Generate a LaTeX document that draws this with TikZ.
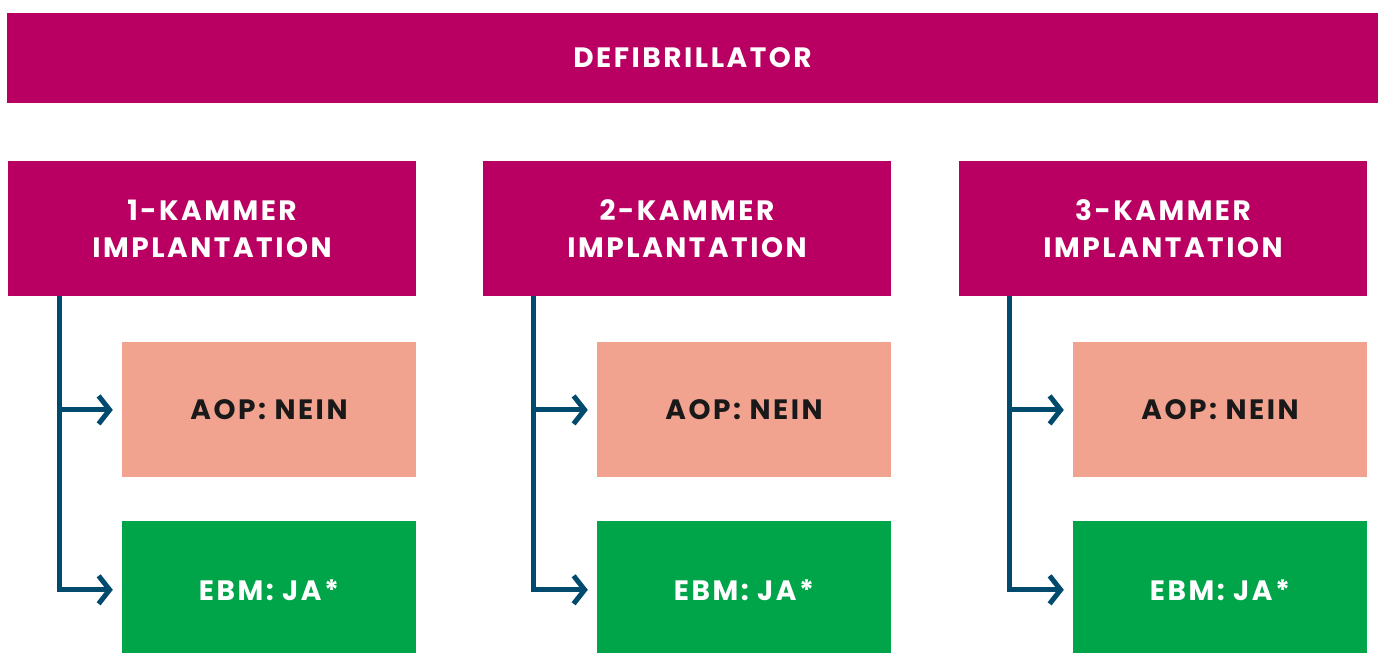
\documentclass[tikz,border=0pt]{standalone}
\usepackage{fontspec}
\setmainfont{Poppins}[LetterSpace=9]
\usetikzlibrary{arrows.meta, positioning}

\definecolor{defimagenta}{HTML}{B90062}
\definecolor{aopsalmon}{HTML}{F2A38F}
\definecolor{ebmgreen}{HTML}{00A54A}
\definecolor{linkblue}{HTML}{004A6E}

\begin{document}
\begin{tikzpicture}[x=1pt,y=-1pt,
  box/.style={rectangle,inner sep=0pt,align=center,
    font=\fontsize{28}{37}\selectfont\bfseries},
  main box/.style={box,fill=defimagenta,text=white,minimum width=408pt,minimum height=135pt},
  aop box/.style={box,fill=aopsalmon,text=black!90,minimum width=294pt,minimum height=135pt},
  ebm box/.style={box,fill=ebmgreen,text=white,minimum width=294pt,minimum height=138pt},
  link/.style={draw=linkblue,line width=5pt,shorten >=9pt,
    -{Straight Barb[length=11pt,width=28pt,line width=5pt]}}]
  \useasboundingbox (0,0) rectangle (1381,653);
  \node[box,fill=defimagenta,text=white,minimum width=1371pt,minimum height=90pt] (defi) at (692.5,58) {DEFIBRILLATOR};

  \node[main box] (k1) at (212,228.5) {1-KAMMER\\IMPLANTATION};
  \node[main box] (k2) at (687,228.5) {2-KAMMER\\IMPLANTATION};
  \node[main box] (k3) at (1163,228.5) {3-KAMMER\\IMPLANTATION};

  \node[aop box, below=46pt of k1.south east, anchor=north east] (aop1) {AOP: NEIN};
  \node[aop box, below=46pt of k2.south east, anchor=north east] (aop2) {AOP: NEIN};
  \node[aop box, below=46pt of k3.south east, anchor=north east] (aop3) {AOP: NEIN};

  \node[ebm box, below=43pt of aop1] (ebm1) {EBM: JA*};
  \node[ebm box, below=43pt of aop2] (ebm2) {EBM: JA*};
  \node[ebm box, below=43pt of aop3] (ebm3) {EBM: JA*};

  \draw[link] ([xshift=52pt]k1.south west) |- (aop1.west);
  \draw[link] ([xshift=52pt]k1.south west) |- (ebm1.west);
  \draw[link] ([xshift=51pt]k2.south west) |- (aop2.west);
  \draw[link] ([xshift=51pt]k2.south west) |- (ebm2.west);
  \draw[link] ([xshift=51pt]k3.south west) |- (aop3.west);
  \draw[link] ([xshift=51pt]k3.south west) |- (ebm3.west);
\end{tikzpicture}
\end{document}
